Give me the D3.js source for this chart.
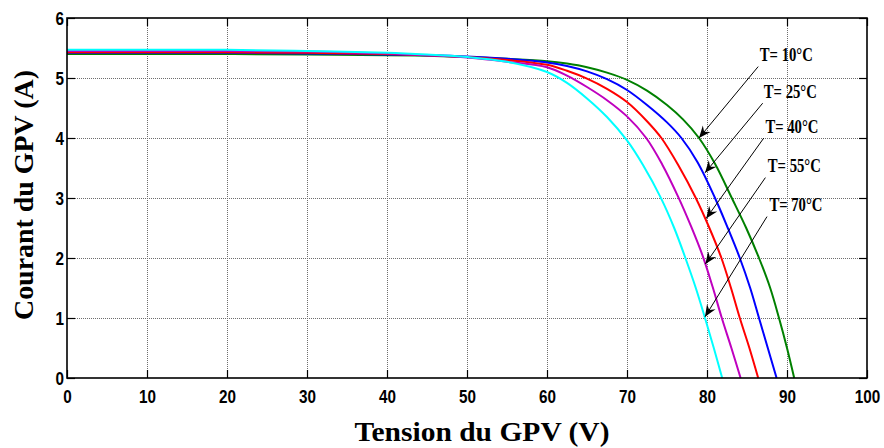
<!DOCTYPE html>
<html>
<head>
<meta charset="utf-8">
<script src="https://cdn.jsdelivr.net/npm/d3@7"></script>
<style>
  html, body { margin: 0; padding: 0; background: #fff; }
  svg { display: block; }
</style>
</head>
<body>
<svg id="chart" width="884" height="448"></svg>
<script>
// ---- data (Tension V, Courant A) ----
const temperatures = ["T= 10°C", "T= 25°C", "T= 40°C", "T= 55°C", "T= 70°C"];
const seriesColors = ["#008000", "#0000ff", "#ff0000", "#bf00bf", "#00ffff"];

const curveT10 = [[0,5.40],[10,5.40],[20,5.40],[30,5.39],[40,5.38],[45,5.37],[50,5.35],[55,5.32],[60,5.28],[62.5,5.24],[65,5.18],[67.5,5.09],[70,4.97],[72.5,4.79],[75,4.55],[77,4.31],[79,4.0],[81,3.57],[83.1,3.0],[84.9,2.5],[86.5,2.0],[87.9,1.5],[89.0,1.0],[90.0,0.5],[90.9,0]];
const curveT25 = [[0,5.42],[10,5.42],[20,5.42],[30,5.41],[40,5.39],[45,5.38],[50,5.36],[55,5.32],[60,5.26],[62.5,5.20],[65,5.11],[67.5,4.98],[70,4.80],[72.5,4.55],[75,4.26],[76.8,4.0],[78.8,3.6],[81.0,3.0],[82.6,2.5],[84.1,2.0],[85.4,1.5],[86.5,1.0],[87.6,0.5],[88.7,0]];
const curveT40 = [[0,5.43],[10,5.43],[20,5.43],[30,5.42],[40,5.40],[45,5.38],[50,5.35],[55,5.30],[60,5.22],[62.5,5.12],[65,4.99],[67.5,4.82],[70,4.60],[72.5,4.28],[74.3,4.0],[76.4,3.55],[78.6,3.0],[80.3,2.5],[81.8,2.0],[83.0,1.5],[84.1,1.0],[85.3,0.5],[86.4,0]];
const curveT55 = [[0,5.45],[10,5.45],[20,5.45],[30,5.44],[40,5.41],[45,5.38],[50,5.34],[55,5.27],[60,5.18],[62.5,5.04],[65,4.85],[67.5,4.63],[70,4.36],[72.4,4.0],[74.4,3.56],[76.4,3.02],[78.0,2.53],[79.5,2.02],[80.7,1.52],[81.85,1.0],[83.05,0.5],[84.2,0]];
const curveT70 = [[0,5.47],[10,5.47],[20,5.47],[30,5.45],[40,5.42],[45,5.39],[50,5.35],[55,5.27],[60,5.10],[62.5,4.92],[65,4.66],[67.5,4.35],[70,3.96],[72,3.55],[74.2,3.01],[75.9,2.5],[77.3,2.0],[78.6,1.5],[79.75,1.0],[80.85,0.5],[81.9,0]];
const allCurves = [curveT10, curveT25, curveT40, curveT55, curveT70];

const xTicks = [0,10,20,30,40,50,60,70,80,90,100];
const yTicks = [0,1,2,3,4,5,6];

// annotation anchors in data units: arrow tip, arrow tail, label baseline-left
const arrowTips  = [[79.0,4.0],[79.75,3.42],[79.9,2.66],[79.8,1.9],[79.75,1.02]];
const arrowTails = [[86.4,5.19],[86.96,4.58],[87.1,4.0],[87.3,3.34],[87.5,2.69]];
const labelAnchors = [[86.6,5.28],[87.1,4.67],[87.3,4.09],[87.6,3.43],[87.8,2.79]];

const xTitle = "Tension du GPV (V)";
const yTitle = "Courant du GPV (A)";

// ---- layout ----
const svg = d3.select("#chart");
const W = 884, H = 448;
const margin = {left: 67, right: 17, top: 18, bottom: 70};
const x = d3.scaleLinear().domain([0,100]).range([margin.left, W - margin.right]);
const y = d3.scaleLinear().domain([0,6]).range([H - margin.bottom, margin.top]);

svg.append("rect").attr("width", W).attr("height", H).attr("fill", "#fff");

// grid
const grid = svg.append("g").attr("shape-rendering", "crispEdges");
grid.selectAll("line.vx").data(xTicks.slice(1, -1)).join("line")
  .attr("x1", d => Math.round(x(d)) + 0.5).attr("x2", d => Math.round(x(d)) + 0.5)
  .attr("y1", y(6)).attr("y2", y(0))
  .attr("stroke", "#6e6e6e").attr("stroke-width", 1).attr("stroke-dasharray", "1,1");
grid.selectAll("line.hy").data(yTicks.slice(1, -1)).join("line")
  .attr("y1", d => Math.round(y(d)) + 0.5).attr("y2", d => Math.round(y(d)) + 0.5)
  .attr("x1", x(0)).attr("x2", x(100))
  .attr("stroke", "#6e6e6e").attr("stroke-width", 1).attr("stroke-dasharray", "1,1");

// curves
const line = d3.line().x(d => x(d[0])).y(d => y(d[1])).curve(d3.curveCatmullRom.alpha(0.5));
svg.append("g").selectAll("path").data(allCurves).join("path")
  .attr("d", line)
  .attr("fill", "none")
  .attr("stroke", (d, i) => seriesColors[i])
  .attr("stroke-width", 2)
  .attr("stroke-linejoin", "round");

// axes (ticks inward)
const tickFont = "'Liberation Sans Narrow','Arial Narrow','Liberation Sans',Arial,sans-serif";
const fmt = d3.format("d");
const xAxis = svg.append("g").attr("transform", `translate(0,${y(0)})`)
  .call(d3.axisBottom(x).tickValues(xTicks).tickFormat(fmt).tickSizeInner(-8).tickSizeOuter(0));
const yAxis = svg.append("g").attr("transform", `translate(${x(0)},0)`)
  .call(d3.axisLeft(y).tickValues(yTicks).tickFormat(fmt).tickSizeInner(-8).tickSizeOuter(0));
const xTop = svg.append("g").attr("transform", `translate(0,${y(6)})`)
  .call(d3.axisTop(x).tickValues(xTicks).tickSizeInner(-8).tickSizeOuter(0).tickFormat(""));
const yRight = svg.append("g").attr("transform", `translate(${x(100)},0)`)
  .call(d3.axisRight(y).tickValues(yTicks).tickSizeInner(-8).tickSizeOuter(0).tickFormat(""));
[xAxis, yAxis, xTop, yRight].forEach(g => {
  g.select(".domain").remove();
  g.selectAll(".tick line").attr("stroke", "#000").attr("stroke-width", 1.2);
});
[xAxis, yAxis].forEach(g => {
  g.selectAll(".tick text")
    .attr("font-family", tickFont).attr("font-weight", "bold").attr("font-size", 19)
    .attr("fill", "#000")
    .attr("textLength", function() { return this.textContent.length * 8.5; })
    .attr("lengthAdjust", "spacingAndGlyphs");
});
xAxis.selectAll(".tick text").attr("dy", null).attr("y", 25);
yAxis.selectAll(".tick text").attr("dy", "0.36em").attr("x", -3);

// frame
svg.append("rect")
  .attr("x", x(0)).attr("y", y(6))
  .attr("width", x(100) - x(0)).attr("height", y(0) - y(6))
  .attr("fill", "none").attr("stroke", "#000").attr("stroke-width", 1.6);

// arrows + labels
const defs = svg.append("defs");
defs.append("marker").attr("id", "ah")
  .attr("viewBox", "-12 -6 14 12").attr("refX", 0).attr("refY", 0)
  .attr("markerWidth", 14).attr("markerHeight", 12)
  .attr("markerUnits", "userSpaceOnUse").attr("orient", "auto")
  .append("path").attr("d", "M0,0 L-12,-5 L-8,0 L-12,5 Z").attr("fill", "#000");

const ann = svg.append("g");
ann.selectAll("line").data(arrowTips).join("line")
  .attr("x1", (d, i) => x(arrowTails[i][0])).attr("y1", (d, i) => y(arrowTails[i][1]))
  .attr("x2", d => x(d[0])).attr("y2", d => y(d[1]))
  .attr("stroke", "#000").attr("stroke-width", 1)
  .attr("marker-end", "url(#ah)");
ann.selectAll("text").data(temperatures).join("text")
  .attr("x", (d, i) => x(labelAnchors[i][0])).attr("y", (d, i) => y(labelAnchors[i][1]))
  .attr("font-family", "'Liberation Serif','Times New Roman',serif")
  .attr("font-weight", "bold").attr("font-size", 18.5)
  .attr("textLength", 53).attr("lengthAdjust", "spacingAndGlyphs")
  .text(d => d);

// titles
const serif = "'Liberation Serif','Times New Roman',serif";
svg.append("text")
  .attr("x", 482).attr("y", 441)
  .attr("text-anchor", "middle")
  .attr("font-family", serif).attr("font-weight", "bold").attr("font-size", 28)
  .attr("textLength", 255).attr("lengthAdjust", "spacingAndGlyphs")
  .text(xTitle);
svg.append("text")
  .attr("transform", "translate(33,195) rotate(-90)")
  .attr("text-anchor", "middle")
  .attr("font-family", serif).attr("font-weight", "bold").attr("font-size", 28)
  .attr("textLength", 250).attr("lengthAdjust", "spacingAndGlyphs")
  .text(yTitle);
</script>
</body>
</html>
